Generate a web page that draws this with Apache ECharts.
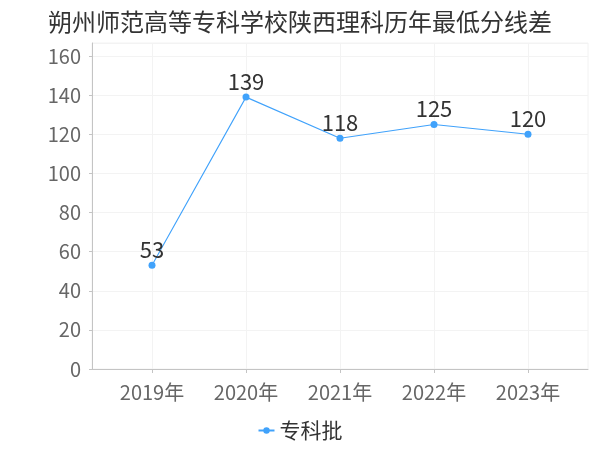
<!DOCTYPE html>
<html>
<head>
<meta charset="utf-8">
<script src="https://cdn.jsdelivr.net/npm/echarts@6/dist/echarts.min.js"></script>
<style>html,body{margin:0;padding:0;background:#fff}#c{width:600px;height:450px}</style>
</head>
<body>
<div id="c"></div>
<script>
const titleText = '朔州师范高等专科学校陕西理科历年最低分线差';
const categories = ['2019年', '2020年', '2021年', '2022年', '2023年'];
const seriesName = '专科批';
const values = [53, 139, 118, 125, 120];
const yTicks = [0, 20, 40, 60, 80, 100, 120, 140, 160];

const FONT = '"Noto Sans CJK SC", "Noto Sans", sans-serif';
const yMax = 166.67;
const chart = echarts.init(document.getElementById('c'), null, {renderer: 'canvas'});
chart.setOption({
  animation: false,
  backgroundColor: '#fff',
  textStyle: {fontFamily: FONT},
  title: {
    text: titleText, left: 'center', top: 5,
    textStyle: {fontSize: 24, fontWeight: 'normal', color: '#333', fontFamily: FONT}
  },
  legend: {
    bottom: 4, left: 'center',
    itemWidth: 16, itemHeight: 8, itemGap: 10,
    textStyle: {fontSize: 21, color: '#333', fontFamily: FONT},
    data: [seriesName]
  },
  grid: [
    {left: 92, right: 12, top: 43, bottom: 81, show: true, borderColor: '#f2f2f2', borderWidth: 1, backgroundColor: 'transparent'},
    {left: 152, right: 72, top: 43, bottom: 81}
  ],
  xAxis: [
    {type: 'value', gridIndex: 0, min: 0, max: 1, offset: 4,
     axisLine: {show: true, lineStyle: {color: '#c4c4c4'}},
     axisTick: {show: false}, axisLabel: {show: false}, splitLine: {show: false}},
    {type: 'category', gridIndex: 1, data: categories, boundaryGap: false, offset: 4,
     axisLine: {show: false},
     axisTick: {show: true, length: 4, lineStyle: {color: '#c4c4c4'}},
     axisLabel: {fontSize: 20, color: '#666', margin: 9, fontFamily: FONT},
     splitLine: {show: true, lineStyle: {color: '#f3f3f3'}}}
  ],
  yAxis: [
    {type: 'value', gridIndex: 0, min: 0, max: yMax, interval: 20, offset: 4,
     axisLine: {show: true, lineStyle: {color: '#c4c4c4'}},
     axisTick: {show: true, length: 3, lineStyle: {color: '#c4c4c4'}},
     axisLabel: {fontSize: 20, color: '#666', margin: 7, showMaxLabel: false, fontFamily: FONT,
       formatter: v => (yTicks.indexOf(v) >= 0 ? String(v) : '')},
     splitLine: {show: true, lineStyle: {color: '#f3f3f3'}}},
    {type: 'value', gridIndex: 1, min: 0, max: yMax,
     axisLine: {show: false}, axisTick: {show: false}, axisLabel: {show: false}, splitLine: {show: false}}
  ],
  series: [{
    name: seriesName, type: 'line', xAxisIndex: 1, yAxisIndex: 1,
    data: values,
    symbol: 'circle', symbolSize: 7,
    itemStyle: {color: '#40a2fb'},
    lineStyle: {color: '#40a2fb', width: 1.1},
    label: {show: true, position: 'top', distance: 1, fontSize: 22, color: '#333', fontFamily: FONT}
  }]
});
</script>
</body>
</html>
